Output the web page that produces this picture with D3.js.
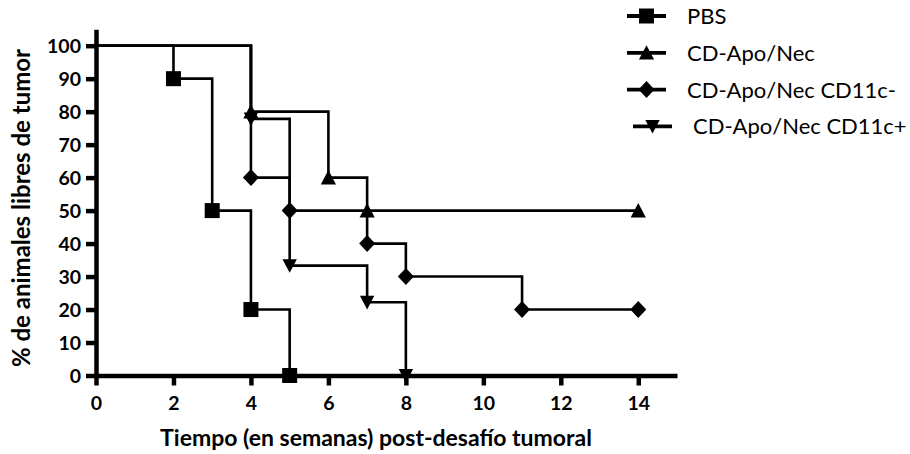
<!DOCTYPE html>
<html>
<head>
<meta charset="utf-8">
<script src="https://cdn.jsdelivr.net/npm/d3@7/dist/d3.min.js"></script>
<style>
  html, body { margin: 0; padding: 0; background: #fff; }
  svg { display: block; }
  .tick text { font-family: Lato, "Open Sans", sans-serif; font-weight: 700; font-size: 19.5px; fill: #000; }
  .title { font-family: Lato, "Open Sans", sans-serif; font-weight: 700; fill: #000; }
  .legend text { font-family: Lato, "Open Sans", sans-serif; font-size: 22px; fill: #000; }
</style>
</head>
<body>
<svg id="chart" width="910" height="454"></svg>
<script>
// Tumour-free survival (%) per group, by week post-challenge
const seriesNames = ["PBS", "CD-Apo/Nec", "CD-Apo/Nec CD11c-", "CD-Apo/Nec CD11c+"];
const pbsWeeks = [2, 3, 4, 5];
const pbsValues = [90, 50, 20, 0];
const apoNecWeeks = [4, 6, 7, 14];
const apoNecValues = [80, 60, 50, 50];
const cd11cNegWeeks = [4, 5, 7, 8, 11, 14];
const cd11cNegValues = [60, 50, 40, 30, 20, 20];
const cd11cPosWeeks = [4, 5, 7, 8];
const cd11cPosValues = [77.8, 33.3, 22.2, 0];
const startValue = 100;
const xTicks = [0, 2, 4, 6, 8, 10, 12, 14];
const yTicks = [0, 10, 20, 30, 40, 50, 60, 70, 80, 90, 100];
const xTitle = "Tiempo (en semanas) post-desafío tumoral";
const yTitle = "% de animales libres de tumor";

const svg = d3.select("#chart");

const x = d3.scaleLinear().domain([0, 15]).range([96, 677]);
const y = d3.scaleLinear().domain([0, 105]).range([375.5, 29.2]);

// Marker shapes centred on the data point
const shapes = {
  square: "M-7.5,-7.5h15v15h-15Z",
  triangle: "M0,-7.5L7.6,6.8L-7.6,6.8Z",
  diamond: "M0,-8.5L8,0L0,8.5L-8,0Z",
  triangleDown: "M-7.2,-6.5L7.2,-6.5L0,7.2Z"
};

const series = [
  { name: seriesNames[0], weeks: pbsWeeks, values: pbsValues, shape: shapes.square },
  { name: seriesNames[1], weeks: apoNecWeeks, values: apoNecValues, shape: shapes.triangle },
  { name: seriesNames[2], weeks: cd11cNegWeeks, values: cd11cNegValues, shape: shapes.diamond },
  { name: seriesNames[3], weeks: cd11cPosWeeks, values: cd11cPosValues, shape: shapes.triangleDown }
];

// Axes
const yAxis = svg.append("g")
  .attr("transform", `translate(${x(0)},0)`)
  .call(d3.axisLeft(y).tickValues(yTicks).tickSize(10).tickSizeOuter(0).tickPadding(5));
const xAxis = svg.append("g")
  .attr("transform", `translate(0,${y(0)})`)
  .call(d3.axisBottom(x).tickValues(xTicks).tickSize(10).tickSizeOuter(0).tickPadding(11));

[xAxis, yAxis].forEach(g => {
  g.select(".domain").attr("stroke", "#000").attr("stroke-width", 4.5);
  g.selectAll(".tick line").attr("stroke", "#000").attr("stroke-width", 4.5);
});
yAxis.selectAll(".tick text").attr("dy", "0.36em");

// Kaplan-Meier style step lines
const step = d3.line()
  .x(d => x(d[0]))
  .y(d => y(d[1]))
  .curve(d3.curveStepAfter);

const plot = svg.append("g");
series.forEach(s => {
  const pts = [[0, startValue]].concat(s.weeks.map((w, i) => [w, s.values[i]]));
  plot.append("path")
    .attr("d", step(pts))
    .attr("fill", "none")
    .attr("stroke", "#000")
    .attr("stroke-width", 2.6);
});
series.forEach(s => {
  plot.selectAll(null)
    .data(s.weeks.map((w, i) => [w, s.values[i]]))
    .join("path")
    .attr("d", s.shape)
    .attr("transform", d => `translate(${x(d[0])},${y(d[1])})`)
    .attr("fill", "#000");
});

// Axis titles
svg.append("text")
  .attr("class", "title")
  .attr("x", 376)
  .attr("y", 446)
  .attr("text-anchor", "middle")
  .style("font-size", "23px")
  .text(xTitle);

svg.append("text")
  .attr("class", "title")
  .attr("transform", "translate(30,208) rotate(-90)")
  .attr("text-anchor", "middle")
  .style("font-size", "24px")
  .text(yTitle);

// Legend
const legend = svg.append("g").attr("class", "legend");
series.forEach((s, i) => {
  const shift = i === 3 ? 6 : 0;
  const ly = 16 + i * 36.8;
  const row = legend.append("g").attr("transform", `translate(${627 + shift},${ly})`);
  row.append("line")
    .attr("x1", 0).attr("x2", 39)
    .attr("y1", 0).attr("y2", 0)
    .attr("stroke", "#000")
    .attr("stroke-width", 3.8);
  row.append("path")
    .attr("d", s.shape)
    .attr("transform", "translate(19.5,0)")
    .attr("fill", "#000");
  row.append("text")
    .attr("x", 60)
    .attr("y", 0)
    .attr("dy", "0.36em")
    .text(s.name);
});
</script>
</body>
</html>
